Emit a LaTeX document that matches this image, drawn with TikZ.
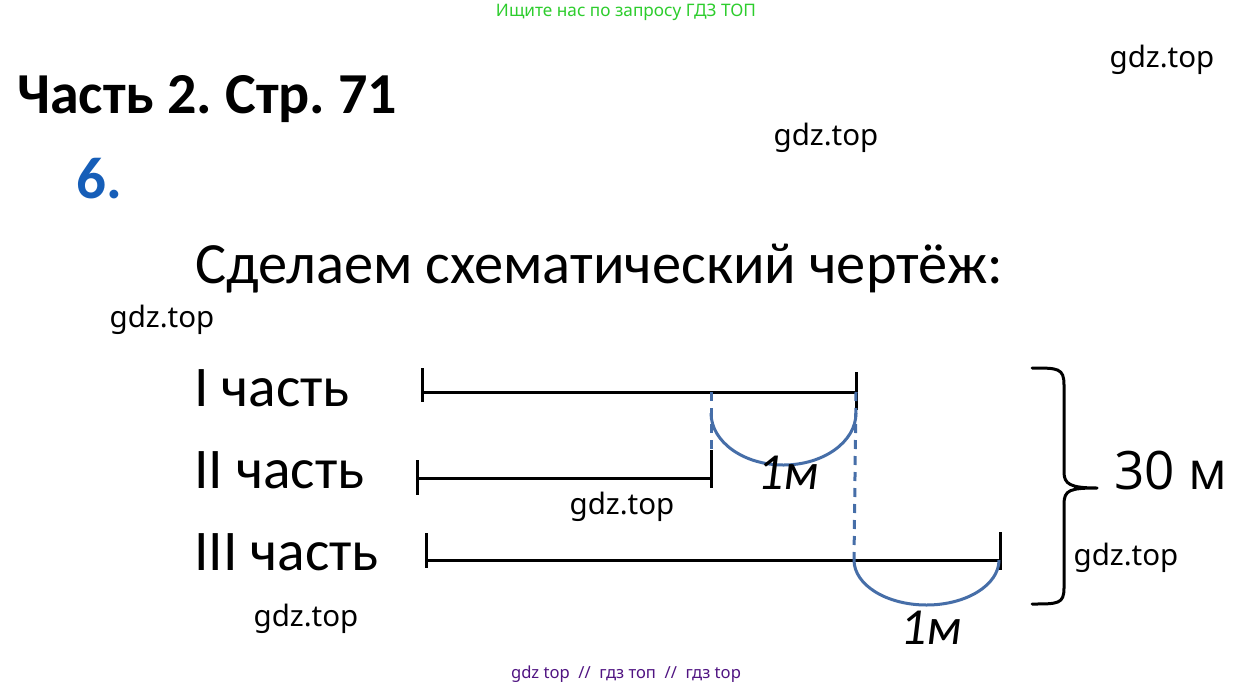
\documentclass[tikz,border=0pt]{standalone}
\usepackage{fontspec}
\setmainfont{Carlito}
\newfontfamily\wmfont{Noto Sans}
\newfontfamily\numfont{Open Sans}
\usepackage{xcolor}
\definecolor{wmgreen}{RGB}{45,205,45}
\definecolor{numblue}{RGB}{22,94,184}
\definecolor{arcblue}{RGB}{70,110,168}
\definecolor{wmpurple}{RGB}{80,20,130}
\tikzset{
  wm/.style={font=\wmfont\fontsize{29.5}{31}\selectfont, inner sep=0pt},
  part/.style={font=\fontsize{57.5}{60}\selectfont, anchor=base west, inner sep=0pt},
  seg/.style={line width=3pt, black},
  bow/.style={line width=3pt, arcblue},
  guide/.style={line width=3pt, arcblue, dashed, dash pattern=on 9pt off 7pt}
}
\frenchspacing

\begin{document}
\begin{tikzpicture}[x=1pt,y=1pt]
     \fill[white] (0,0) rectangle (1253,-689);
     \useasboundingbox (0,0) rectangle (1253,-689);
     % watermarks
     \node[font=\wmfont\fontsize{17.2}{19}\selectfont, text=wmgreen, inner sep=0pt] (top) at (626,-12) {Ищите нас по запросу ГДЗ ТОП};
     \node[font=\wmfont\fontsize{16.6}{18}\selectfont, text=wmpurple, inner sep=0pt] (bottom) at (626,-674) {gdz top \ // \ гдз топ \ // \ гдз top};
     \node[wm] (w1) at (1162,-60) {gdz.top};
     \node[wm] (w2) at (826,-138) {gdz.top};
     \node[wm] (w3) at (162,-320) {gdz.top};
     \node[wm] (w4) at (622,-507) {gdz.top};
     \node[wm] (w5) at (1126,-558) {gdz.top};
     \node[wm] (w6) at (306,-619) {gdz.top};
     % headings
     \node[font=\bfseries\fontsize{58}{60}\selectfont, anchor=base west, inner sep=0pt] (title) at (17,-113) {Часть 2. Стр. 71};
     \node[font=\bfseries\fontsize{59}{62}\selectfont, text=numblue, anchor=base west, inner sep=0pt] (num) at (76,-198) {6.};
     \node[font=\fontsize{58.4}{62}\selectfont, anchor=base west, inner sep=0pt] (head) at (195,-283) {Сделаем схематический чертёж:};
     % labels of the parts
     \node[part] (p1) at (194,-406) {I часть};
     \node[part] (p2) at (194,-488) {II часть};
     \node[part] (p3) at (194,-570) {III часть};
     % segments
     \coordinate (A1) at (422,-392); \coordinate (B1) at (856,-392);
     \coordinate (A2) at (417,-478); \coordinate (B2) at (711,-478);
     \coordinate (A3) at (426,-560); \coordinate (B3) at (1000,-560);
     \draw[seg] (A1) -- (B1);
     \draw[seg] (A2) -- (B2);
     \draw[seg] (A3) -- (B3);
     \draw[seg] ([yshift=24pt]A1) -- ([yshift=-10pt]A1);
     \draw[seg] ([yshift=20pt]B1) -- ([yshift=-18pt]B1);
     \draw[seg] ([yshift=18pt]A2) -- ([yshift=-17pt]A2);
     \draw[seg] ([yshift=28pt]B2) -- ([yshift=-10pt]B2);
     \draw[seg] ([yshift=27pt]A3) -- ([yshift=-8pt]A3);
     \draw[seg] ([yshift=28pt]B3) -- ([yshift=-10pt]B3);
     % dashed guides and bows
     \draw[guide] (B1) -- ([xshift=-2pt]A3 -| B1);
     \draw[guide] (B2 |- A1) -- ([yshift=28pt]B2);
     \draw[bow] (711,-413) arc[start angle=180, end angle=360, x radius=72.5, y radius=52];
     \draw[bow] (854,-560) arc[start angle=180, end angle=360, x radius=72.5, y radius=45];
     \node[font=\itshape\fontsize{52}{55}\selectfont, anchor=base west, inner sep=0pt] (m1) at (757,-489) {1м};
     \node[font=\itshape\fontsize{52}{55}\selectfont, anchor=base west, inner sep=0pt] (m2) at (900,-644) {1м};
     % brace
     \coordinate (tip) at (1097,-488);
     \draw[line width=3pt, line cap=round] (1032,-368) .. controls (1058,-368) and (1064,-368) .. (1064,-385)
          -- (1064,-472) .. controls (1064,-484) and (1070,-488) .. (tip)
          (1032,-604) .. controls (1058,-604) and (1064,-604) .. (1064,-588)
          -- (1064,-504) .. controls (1064,-490) and (1070,-488) .. (tip);
     \node[font=\numfont\fontsize{53}{56}\selectfont, anchor=base west, inner sep=0pt] (total) at (1114,-489) {30 м};
\end{tikzpicture}
\end{document}
